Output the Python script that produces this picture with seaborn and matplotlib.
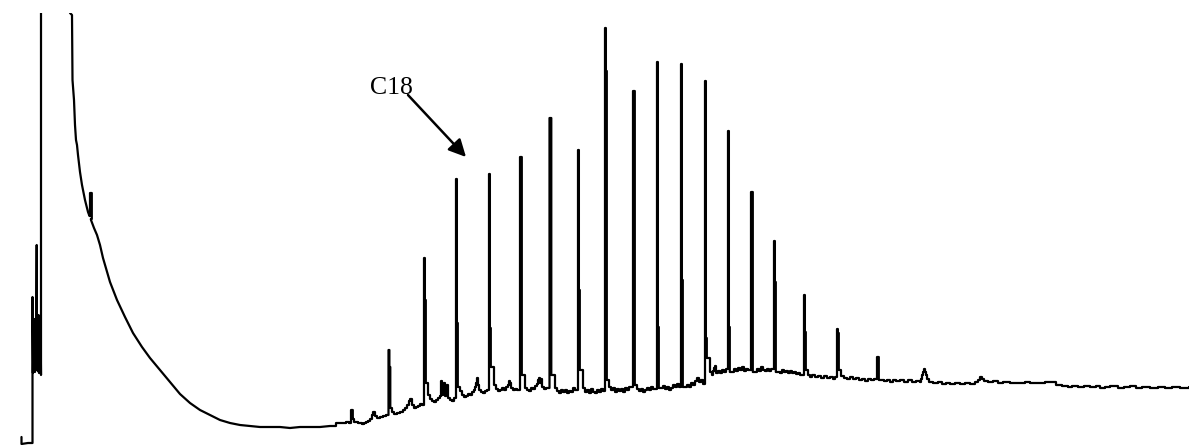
import matplotlib
matplotlib.use("Agg")
import matplotlib.pyplot as plt
import seaborn as sns
import pandas as pd

# ---- data (retention position, detector response) ----
# early part: injection blip, off-scale solvent peak and its decaying tail
early_x = [21.5, 21.5, 28, 32.5, 32.5, 33, 33.5, 34, 34.5, 35, 35.5, 36, 36.7, 37, 37.5, 38, 38.5,
           39, 39.5, 40, 40.5, 41, 41, 70, 70, 72, 72.5, 74, 75, 76, 77, 78, 80, 82, 85, 88,
           89.5, 91, 94, 97, 100, 103, 110, 117, 125, 133, 142, 150, 160, 170, 180, 190, 200,
           210, 220, 230, 240, 250, 260, 270, 280, 290, 300, 310, 320, 330]
early_y = [8, 1, 2, 2, 148, 72, 120, 74, 126, 73, 118, 75, 200, 80, 127, 74, 130,
           72, 128, 73, 125, 70, 600, 600, 432, 430, 365, 345, 320, 305, 300, 290, 273, 260, 245, 233,
           229, 225, 217, 210, 200, 187, 163, 145, 128, 112, 98, 87, 75, 63, 51, 42, 35,
           30, 25, 22, 20, 19, 18, 18, 18, 17, 18, 18, 18, 19]

late_x = [330, 336, 342, 346, 349, 354, 358, 362, 364, 366, 368, 370, 372, 373, 375, 377, 380, 383, 386,
          392, 394, 397, 400, 403, 405, 407, 409, 410, 412, 414, 416, 418, 420, 422,
          428, 430, 432, 434, 436, 438, 440, 441, 442, 443, 444, 445, 446, 447, 448, 450, 452, 454,
          460, 462, 464, 466, 468, 470, 472, 474, 475, 476, 477, 478, 479, 481, 483, 485, 487,
          494, 496, 498, 500, 502, 504, 506, 508, 509, 510, 511, 513, 515, 517,
          525, 527, 529, 531, 533, 535, 537, 538, 539, 540, 541, 542, 544, 546,
          555, 557, 559, 561, 563, 565, 567, 569, 571, 573, 575,
          583, 585, 587, 589, 591, 593, 595, 597, 599, 601, 603,
          609, 611, 613, 615, 617, 619, 621, 623, 625, 627, 629,
          637, 639, 641, 643, 645, 647, 649, 651, 653,
          661, 663, 665, 667, 669, 671, 673, 675, 677, 679,
          685, 687, 689, 691, 693, 695, 697, 699, 701, 703,
          710, 712, 713, 714, 715, 716, 718, 720, 722, 724, 726,
          732, 734, 736, 738, 740, 742, 744, 746, 748,
          754, 757, 759, 761, 763, 765, 767, 769, 771,
          777, 780, 782, 784, 786, 788, 790, 792, 794, 796, 798, 800,
          808, 810, 812, 815, 818, 821, 824, 827, 830, 833, 835,
          841, 844, 847, 850, 853, 856, 859, 862, 865, 868, 871, 874,
          881, 884, 887, 890, 893, 896, 900, 904, 908, 912, 916, 920, 921, 922, 923, 924, 925, 926,
          927, 929, 933, 938, 942, 946, 950, 955, 960, 965, 970, 975, 978, 980, 982, 984, 988,
          993, 998, 1003, 1010, 1020, 1025, 1030, 1040, 1045, 1050, 1056, 1062, 1068, 1072,
          1078, 1084, 1090, 1096, 1100, 1105, 1110, 1118, 1124, 1130, 1136, 1142, 1150, 1158,
          1165, 1172, 1180, 1189]
late_y = [22, 22, 22, 23, 22, 23, 22, 21, 22, 23, 24, 26, 30, 33, 29, 27, 28, 29, 30,
          33, 31, 32, 33, 35, 37, 40, 44, 46, 40, 37, 38, 39, 41, 40,
          50, 46, 44, 43, 45, 47, 49, 64, 50, 52, 62, 49, 51, 60, 47, 45, 44, 47,
          54, 50, 48, 49, 51, 50, 53, 55, 58, 62, 67, 60, 55, 53, 52, 54, 55,
          60, 56, 54, 55, 57, 55, 58, 60, 64, 62, 57, 55, 56, 55,
          57, 55, 54, 57, 56, 59, 61, 65, 67, 62, 66, 58, 56, 57,
          57, 54, 52, 55, 53, 55, 52, 54, 53, 57, 55,
          57, 53, 55, 52, 56, 53, 52, 55, 53, 56, 54,
          58, 55, 57, 53, 56, 54, 56, 53, 57, 55, 58,
          56, 54, 56, 53, 55, 57, 55, 58, 56,
          57, 59, 56, 58, 55, 57, 60, 58, 61, 58,
          58, 60, 58, 62, 60, 64, 67, 63, 65, 61,
          73, 70, 74, 77, 79, 72, 74, 72, 75, 73, 76,
          73, 76, 74, 77, 75, 78, 74, 76, 75,
          73, 76, 74, 78, 75, 74, 76, 74, 76,
          73, 72, 75, 73, 74, 72, 74, 72, 73, 71, 72, 70,
          70, 68, 70, 68, 69, 67, 69, 67, 68, 66, 68,
          69, 67, 66, 68, 66, 67, 65, 66, 64, 66, 65, 66,
          65, 64, 65, 63, 65, 64, 65, 63, 65, 63, 64, 63, 66, 70, 73, 76, 73, 70,
          66, 63, 62, 63, 61, 62, 61, 62, 61, 62, 61, 63, 65, 68, 66, 64, 63,
          64, 62, 63, 62, 62, 63, 62, 62, 63, 63, 60, 59, 58, 59,
          58, 59, 58, 59, 57, 58, 59, 57, 58, 59, 57, 58, 57, 58,
          57, 58, 57, 58]

# n-alkane peaks: apex, secondary (shoulder) level, level right after the peak
peak_x = [90, 351, 388.5, 424, 456, 489, 520, 549.5, 578, 605, 633, 657, 681, 705, 728, 751, 774, 804, 837, 877]
peak_top = [252, 35, 95, 187, 266, 271, 288, 327, 295, 417, 354, 383, 381, 364, 314, 253, 204, 150, 116, 88]
peak_shoulder = [252, 35, 78, 145, 122, 117, 288, 327, 155, 374, 354, 118, 165, 107, 118, 253, 163, 113, 112, 88]
peak_after = [226, 26, 37, 62, 58, 78, 70, 70, 75, 65, 60, 57, 58, 87, 73, 73, 73, 75, 75, 65]

label_text = "C18"
label_xy = (391, 357)
arrow_start = (408, 350)
arrow_tip = (466, 288)

# ---- build the trace ----
pts_x = early_x + late_x[1:]
pts_y = early_y + late_y[1:]
step_from = len(early_x)          # index from which the trace is drawn step-wise

xs, ys = [], []
pk = 0
for i, (bx, by) in enumerate(zip(pts_x, pts_y)):
    while pk < len(peak_x) and peak_x[pk] <= bx and xs:
        px = peak_x[pk]
        pre = ys[-1]
        w = 0.9
        tail = min(px + 3.5, bx - 0.2)
        xs += [px, px, px + w, px + w, px + 2 * w, px + 2 * w, tail]
        ys += [pre, peak_top[pk], peak_top[pk], peak_shoulder[pk], peak_shoulder[pk],
               peak_after[pk], peak_after[pk]]
        pk += 1
    if i >= step_from and xs:
        xs.append(bx)
        ys.append(ys[-1])
    xs.append(bx)
    ys.append(by)

df = pd.DataFrame({"time": xs, "response": ys})

sns.set_style("white")
fig = plt.figure(figsize=(11.89, 4.45), dpi=100)
ax = fig.add_axes([0, 0, 1, 432 / 445])
sns.lineplot(data=df, x="time", y="response", sort=False, estimator=None,
             color="black", linewidth=1.6, ax=ax)
ax.set_xlim(0, 1189)
ax.set_ylim(0, 432)
ax.axis("off")

ax.text(label_xy[0], label_xy[1], label_text, ha="center", va="center",
        fontsize=18.5, family="Liberation Serif", color="black")
ax.annotate("", xy=arrow_tip, xytext=arrow_start,
            arrowprops=dict(arrowstyle="-|>", lw=1.8, color="black", mutation_scale=26,
                            shrinkA=0, shrinkB=0))

fig.savefig("out.png", dpi=100, facecolor="white")
